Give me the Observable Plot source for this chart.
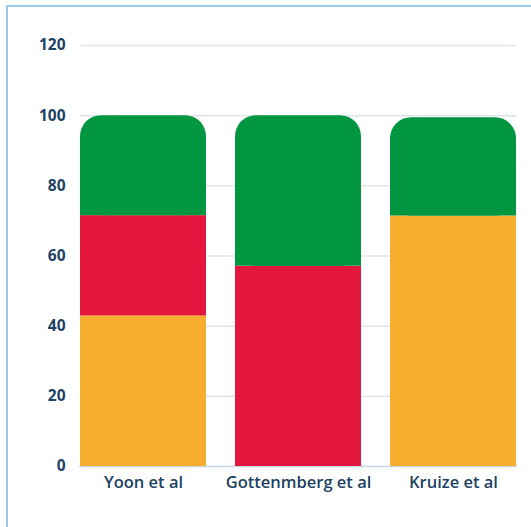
<!DOCTYPE html>
<html>
<head>
<meta charset="utf-8">
<script src="https://cdn.jsdelivr.net/npm/d3@7"></script>
<script src="https://cdn.jsdelivr.net/npm/@observablehq/plot@0.6"></script>
<style>
  html, body { margin: 0; padding: 0; background: #fff; overflow: hidden; }
  #frame { position: absolute; left: 6px; top: 5px; width: 700px; height: 700px;
           border-left: 2px solid #9cc8ee; border-top: 2px solid #9cc8ee; box-sizing: border-box; }
  #chart { position: absolute; left: 0; top: 0; }
  #chart svg text { font-family: "Open Sans", sans-serif; }
</style>
</head>
<body>
<div id="frame"></div>
<div id="chart"></div>
<script>
const studies = ["Yoon et al", "Gottenmberg et al", "Kruize et al"];
const segmentNames = ["segA", "segB", "segC"];
const orangeValues = [42.9, 0, 71.4];
const redValues = [28.6, 57.1, 0];
const greenValues = [28.5, 42.9, 28];
const segmentColors = ["#f5ae2e", "#e3173d", "#01963f"];
const yTicks = [0, 20, 40, 60, 80, 100, 120];

const series = [orangeValues, redValues, greenValues];
const rows = [];
studies.forEach((s, i) => {
  let acc = 0;
  const segs = [];
  series.forEach((vals, k) => {
    const v = vals[i];
    if (v > 0) {
      segs.push({study: s, seg: segmentNames[k], y1: acc, y2: acc + v});
      acc += v;
    }
  });
  segs[segs.length - 1].top = true;
  rows.push(...segs);
});
const topRows = rows.filter(d => d.top);
const flatRows = rows.filter(d => !d.top);
const patchRows = topRows.map(d => ({...d, y2: (d.y1 + d.y2) / 2}));

const chart = Plot.plot({
  width: 531,
  height: 527,
  marginTop: 45,
  marginBottom: 61,
  marginLeft: 79,
  marginRight: 14,
  style: {fontSize: "15px", color: "#1c3f60", background: "transparent"},
  x: {domain: studies, paddingInner: 0.19, paddingOuter: 0, label: null},
  y: {domain: [0, 120], ticks: yTicks, label: null},
  color: {type: "ordinal", domain: segmentNames, range: segmentColors},
  marks: [
    Plot.gridY(yTicks.filter(t => t > 0), {stroke: "#dfe3ea", strokeOpacity: 1, strokeWidth: 1.5, x1: () => studies[0], x2: () => studies[2]}),
    Plot.ruleY([0], {stroke: "#c9d6e4", strokeWidth: 1.5}),
    Plot.barY(flatRows, {x: "study", y1: "y1", y2: "y2", fill: "seg", inset: 0}),
    Plot.barY(topRows, {x: "study", y1: "y1", y2: "y2", fill: "seg", rx: 21, inset: 0}),
    Plot.barY(patchRows, {x: "study", y1: "y1", y2: "y2", fill: "seg", inset: 0}),
    Plot.axisY({ticks: yTicks, tickSize: 0, tickPadding: 14, fontWeight: 700, fontSize: 15.5, fill: "#1d4263"}),
    Plot.axisX({tickSize: 0, tickPadding: 10, fontWeight: 600, fontSize: 16.5, fill: "#1d4263"})
  ]
});
document.getElementById("chart").appendChild(chart);
</script>
</body>
</html>
